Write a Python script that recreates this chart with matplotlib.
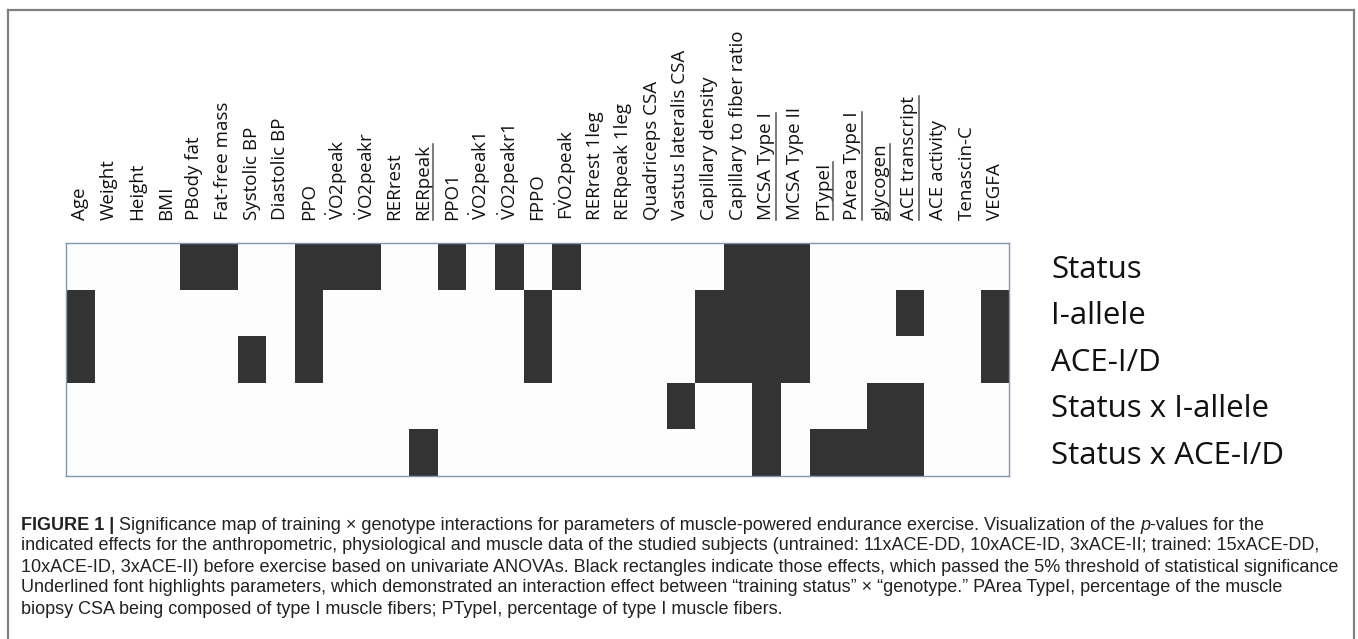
import matplotlib
matplotlib.use("Agg")
import matplotlib.pyplot as plt
import numpy as np
from matplotlib.colors import ListedColormap
from matplotlib.lines import Line2D
from matplotlib.transforms import IdentityTransform

plt.rcParams["mathtext.fontset"] = "custom"
plt.rcParams["mathtext.rm"] = "Open Sans"
plt.rcParams["mathtext.it"] = "Open Sans:italic"

VDOT = r"$\dot{\mathrm{V}}$"

# column parameters
params = ["Age", "Weight", "Height", "BMI", "PBody fat", "Fat-free mass",
          "Systolic BP", "Diastolic BP", "PPO", VDOT + "O2peak", VDOT + "O2peakr",
          "RERrest", "RERpeak", "PPO1", VDOT + "O2peak1", VDOT + "O2peakr1", "FPPO",
          "F" + VDOT + "O2peak", "RERrest 1leg", "RERpeak 1leg", "Quadriceps CSA",
          "Vastus lateralis CSA", "Capillary density", "Capillary to fiber ratio",
          "MCSA Type I", "MCSA Type II", "PTypeI", "PArea Type I", "glycogen",
          "ACE transcript", "ACE activity", "Tenascin-C", "VEGFA"]
underlined = ["RERpeak", "MCSA Type I", "PTypeI", "PArea Type I", "glycogen",
              "ACE transcript"]
effects = ["Status", "I-allele", "ACE-I/D", "Status x I-allele", "Status x ACE-I/D"]

# 1 = passed the 5% significance threshold
sig_status = [0,0,0,0,1,1,0,0,1,1,1,0,0,1,0,1,0,1,0,0,0,0,0,1,1,1,0,0,0,0,0,0,0]
sig_iallele = [1,0,0,0,0,0,0,0,1,0,0,0,0,0,0,0,1,0,0,0,0,0,1,1,1,1,0,0,0,1,0,0,1]
sig_aceid = [1,0,0,0,0,0,1,0,1,0,0,0,0,0,0,0,1,0,0,0,0,0,1,1,1,1,0,0,0,0,0,0,1]
sig_status_iallele = [0,0,0,0,0,0,0,0,0,0,0,0,0,0,0,0,0,0,0,0,0,1,0,0,1,0,0,0,1,1,0,0,0]
sig_status_aceid = [0,0,0,0,0,0,0,0,0,0,0,0,1,0,0,0,0,0,0,0,0,0,0,0,1,0,1,1,1,1,0,0,0]

caption = [
    [("FIGURE 1 |", "bold", "normal"),
     (" Significance map of training \u00d7 genotype interactions for parameters of "
      "muscle-powered endurance exercise. Visualization of the ", "normal", "normal"),
     ("p", "normal", "italic"),
     ("-values for the", "normal", "normal")],
    [("indicated effects for the anthropometric, physiological and muscle data of the "
      "studied subjects (untrained: 11xACE-DD, 10xACE-ID, 3xACE-II; trained: 15xACE-DD,",
      "normal", "normal")],
    [("10xACE-ID, 3xACE-II) before exercise based on univariate ANOVAs. Black rectangles "
      "indicate those effects, which passed the 5% threshold of statistical significance",
      "normal", "normal")],
    [("Underlined font highlights parameters, which demonstrated an interaction effect "
      "between \u201ctraining status\u201d \u00d7 \u201cgenotype.\u201d PArea TypeI, "
      "percentage of the muscle", "normal", "normal")],
    [("biopsy CSA being composed of type I muscle fibers; PTypeI, percentage of type I "
      "muscle fibers.", "normal", "normal")],
]

W, H = 1358, 639
fig = plt.figure(figsize=(W / 100, H / 100), dpi=100)
fig.patch.set_facecolor("white")

grid = np.array([sig_status, sig_iallele, sig_aceid, sig_status_iallele, sig_status_aceid])

ax = fig.add_axes([65.7 / W, 1 - 475.7 / H, (1009.3 - 65.7) / W, (475.7 - 242.7) / H])
ax.imshow(grid, cmap=ListedColormap(["#fdfdfd", "#333333"]), aspect="auto",
          interpolation="nearest", vmin=0, vmax=1)
for s in ax.spines.values():
    s.set_color("#8497b0")
    s.set_linewidth(1.0)

lab_font = ["Open Sans", "DejaVu Sans"]
ax.xaxis.tick_top()
ax.set_xticks(range(len(params)), params, rotation=90, fontsize=13.5, family=lab_font,
              color="#111111")
ax.tick_params(axis="x", length=0, pad=16)
ax.yaxis.tick_right()
ax.set_yticks(range(len(effects)), effects, fontsize=22.5, family=lab_font, color="#111111")
ax.tick_params(axis="y", length=0, pad=30)

# outer frame of the figure panel
frame_kw = dict(color="#808080", lw=1.6, transform=fig.transFigure)
fig.add_artist(Line2D([7.5 / W, 7.5 / W], [0, 1 - 10 / H], **frame_kw))
fig.add_artist(Line2D([7.5 / W, 1354 / W], [1 - 10 / H, 1 - 10 / H], **frame_kw))
fig.add_artist(Line2D([1354 / W, 1354 / W], [0, 1 - 10 / H], **frame_kw))

fig.canvas.draw()
renderer = fig.canvas.get_renderer()

# underline the parameters with a training x genotype interaction
for lab in ax.get_xticklabels():
    if lab.get_text() in underlined:
        bb = lab.get_window_extent(renderer)
        fig.add_artist(Line2D([bb.x1 + 0.5, bb.x1 + 0.5], [bb.y0, bb.y1],
                              color="#555555", lw=1.1, transform=IdentityTransform()))

# caption, written segment by segment
cap_font = ["Liberation Sans", "DejaVu Sans"]
cap_size = 13.0
probe = fig.text(0, 0, "a a", fontsize=cap_size, family=cap_font)
probe2 = fig.text(0, 0, "aa", fontsize=cap_size, family=cap_font)
space_w = probe.get_window_extent(renderer).width - probe2.get_window_extent(renderer).width
probe.remove()
probe2.remove()

y0 = H - 523
for row in caption:
    x = 21
    for txt, weight, style in row:
        lead = len(txt) - len(txt.lstrip(" "))
        trail = len(txt) - len(txt.rstrip(" "))
        x += lead * space_w
        t = fig.text(x, y0, txt.strip(), fontsize=cap_size, family=cap_font,
                     fontweight=weight, fontstyle=style, color="#222222",
                     va="center_baseline", ha="left", transform=IdentityTransform())
        bb = t.get_window_extent(renderer)
        x = bb.x1 + trail * space_w
    y0 -= 21

fig.savefig("out.png", dpi=100, facecolor="white")
